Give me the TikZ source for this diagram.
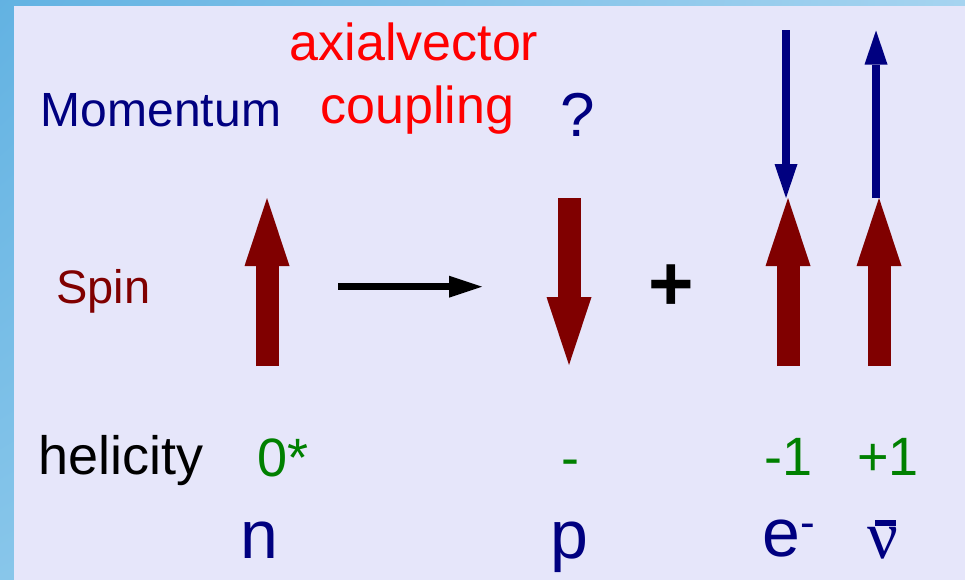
\documentclass[tikz,border=0pt]{standalone}
\usepackage{fontspec}
\setmainfont{Liberation Sans}
\newfontfamily\nufont{Liberation Serif}
\usetikzlibrary{arrows.meta,shadings}
\definecolor{lav}{RGB}{230,230,250}
\definecolor{navy}{RGB}{0,0,128}
\definecolor{spinred}{RGB}{128,0,0}
\definecolor{hgreen}{RGB}{0,128,0}
\definecolor{bandA}{RGB}{98,178,226}
\definecolor{bandB}{RGB}{166,212,240}
\definecolor{bandC}{RGB}{136,198,234}
\newcommand\fsz[1]{\fontsize{#1}{#1}\selectfont}
\begin{document}
\begin{tikzpicture}[x=1pt,y=-1pt,
  lbl/.style={inner sep=0pt, outer sep=0pt},
  spinarrow/.style={draw=spinred, line width=23pt, -{Triangle[length=68pt,width=45pt,line width=0pt]}},
  momarrow/.style={draw=navy, line width=7.4pt, -{Triangle[length=34pt,width=23pt,line width=0pt]}},
  reacarrow/.style={draw=black, line width=7.4pt, -{Triangle[length=33pt,width=22pt,line width=0pt]}}]
\useasboundingbox (0,0) rectangle (965,579);
% background
\shade[upper left=bandA, upper right=bandB, lower left=bandC, lower right=bandB] (-3,-3) rectangle (968,582);
\fill[lav] (14,6) rectangle (968,582);
% labels
\node[lbl, navy, font=\fsz{48}, anchor=base] (mom) at (161,126) {Momentum};
\node[lbl, red, font=\fsz{52}, anchor=base] (ax) at (414,60) {axialvector};
\node[lbl, red, font=\fsz{52}, anchor=base] (cp) at (417.5,123.3) {coupling};
\node[lbl, navy, font=\fsz{62}, anchor=base] (q) at (578,136.7) {?};
\node[lbl, spinred, font=\fsz{47}, anchor=base] (spin) at (103.2,303.3) {Spin};
\node[lbl, font=\bfseries\fsz{78}, anchor=base] (plus) at (671.7,310.6) {+};
\node[lbl, font=\fsz{54}, anchor=base] (hel) at (121.2,474) {helicity};
\node[lbl, hgreen, font=\fsz{54}, anchor=base west] (h0) at (257.7,476) {0*};
\node[lbl, hgreen, font=\fsz{54}, anchor=base] (hp) at (570.5,476) {-};
\node[lbl, hgreen, font=\fsz{54}, anchor=base west] (he) at (764.3,475) {-1};
\node[lbl, hgreen, font=\fsz{54}, anchor=base west] (hnu) at (857.3,475) {+1};
\node[lbl, navy, font=\fsz{68}, anchor=base] (n) at (259.7,558.3) {n};
\node[lbl, navy, font=\fsz{68}, anchor=base] (p) at (569,558) {p};
\node[lbl, navy, font=\fsz{68}, anchor=base west] (e) at (762.3,556.7) {e\raisebox{18.8pt}{\fsz{44}-}};
\node[lbl, navy, font=\nufont\fsz{68}, anchor=base west] (nu) at (867,558.3) {\makebox[0pt][l]{\hspace{8pt}\raisebox{32.3pt}{\rule{21pt}{6pt}}}ν};
% arrow end points
\coordinate (nS0) at (267,366);  \coordinate (nS1) at (267,198);
\coordinate (pS0) at (569,198);  \coordinate (pS1) at (569,365);
\coordinate (eS0) at (788,366);  \coordinate (eS1) at (788,198);
\coordinate (vS0) at (879,366);  \coordinate (vS1) at (879,198);
\coordinate (eM0) at (786,30);   \coordinate (eM1) at (786,198);
\coordinate (vM0) at (876,198);  \coordinate (vM1) at (876,30.5);
\coordinate (r0) at (338,286.7); \coordinate (r1) at (482,286.7);
% spin arrows
\draw[spinarrow] (nS0) -- (nS1);
\draw[spinarrow] (pS0) -- (pS1);
\draw[spinarrow] (eS0) -- (eS1);
\draw[spinarrow] (vS0) -- (vS1);
% momentum arrows
\draw[momarrow] (eM0) -- (eM1);
\draw[momarrow] (vM0) -- (vM1);
% reaction arrow
\draw[reacarrow] (r0) -- (r1);
\end{tikzpicture}
\end{document}
